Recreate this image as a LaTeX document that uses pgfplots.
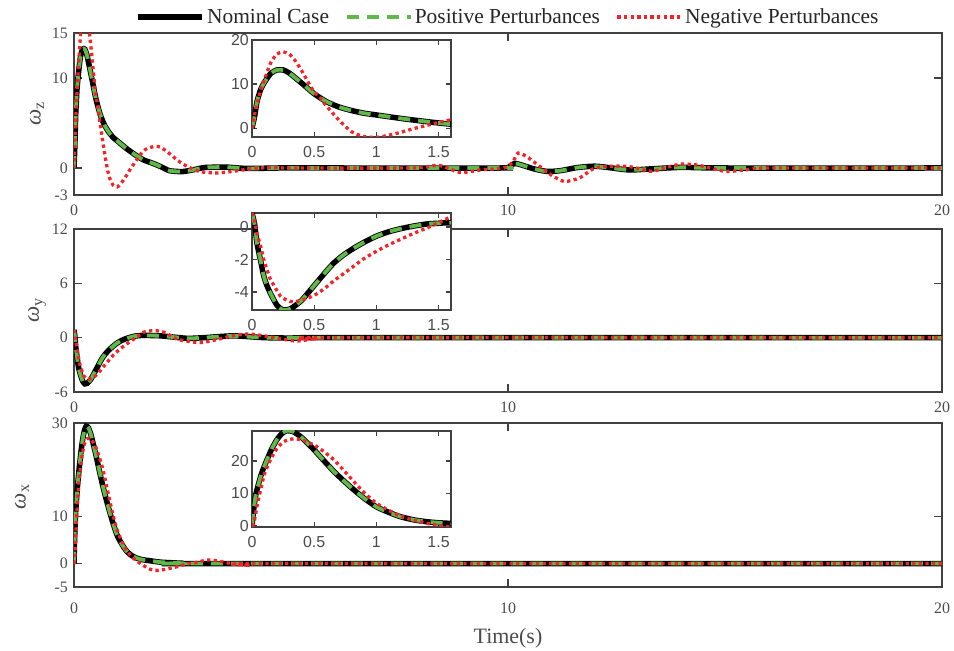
\documentclass[border=0pt]{standalone}
\usepackage{pgfplots}
\pgfplotsset{compat=1.18}
\usepackage{pgfplotstable}
\usepackage{fontspec}
\setmainfont{Liberation Serif}
\newfontfamily\insetfont{Liberation Sans}
\definecolor{axgray}{RGB}{64,64,64}
\definecolor{txtgray}{RGB}{75,75,75}
\definecolor{nomgreen}{RGB}{96,184,72}
\definecolor{negred}{RGB}{245,35,40}

% omega_z
\pgfplotstableread{
t v
0 0
0.02 2.5
0.04 6
0.07 8.8
0.1 10.4
0.15 12.4
0.2 13.2
0.25 13.2
0.3 12.5
0.4 10.2
0.5 7.8
0.6 6.0
0.7 4.8
0.8 4.0
0.9 3.4
1.0 3.0
1.2 2.2
1.4 1.5
1.6 0.9
1.8 0.55
2.0 0.15
2.2 -0.3
2.5 -0.4
2.8 -0.15
3.0 0.05
3.5 0.1
4.0 -0.05
5.0 0.02
6.0 0
9.9 0
10.0 0.05
10.15 0.5
10.3 0.35
10.6 -0.1
10.9 -0.38
11.2 -0.3
11.6 0.05
12.0 0.2
12.4 0.0
12.8 -0.22
13.3 -0.1
14.0 0.07
15.0 0
20 0
}\wzNom
\pgfplotstableread{
t v
0 0
0.02 3
0.04 5.5
0.07 8.5
0.1 11
0.15 14.8
0.2 16.8
0.25 17.3
0.3 16.8
0.35 15.2
0.4 13
0.45 10.5
0.5 8.2
0.55 6.8
0.6 5.0
0.7 1.8
0.8 -0.8
0.9 -1.9
1.0 -2.1
1.1 -1.6
1.2 -0.9
1.3 -0.1
1.4 0.6
1.5 1.3
1.6 1.9
1.7 2.2
1.87 2.4
2.0 2.3
2.2 1.6
2.4 0.8
2.6 0.2
2.9 -0.4
3.3 -0.55
3.7 -0.35
4.1 -0.07
4.5 0.05
5.0 0
7.8 0
8.4 0.3
8.9 -0.5
9.4 -0.2
9.9 0
10.1 0.6
10.23 1.65
10.42 1.3
10.7 0.3
11.0 -0.8
11.3 -1.5
11.65 -1.1
12.0 0
12.4 0.2
12.8 0.15
13.3 -0.37
13.6 0
14.0 0.44
14.4 0.3
15.0 -0.37
15.5 -0.2
16.0 0
20 0
}\wzNeg
% omega_y
\pgfplotstableread{
t v
0 0.85
0.02 0.2
0.04 -1.0
0.07 -2.1
0.094 -3.0
0.12 -3.6
0.147 -4.06
0.2 -4.8
0.25 -5.1
0.3 -5.05
0.335 -4.9
0.4 -4.5
0.5 -3.6
0.6 -2.7
0.66 -2.2
0.74 -1.7
0.82 -1.3
0.9 -0.95
1.0 -0.57
1.1 -0.3
1.19 -0.12
1.3 0.05
1.41 0.18
1.5 0.22
1.6 0.25
2.0 0.2
2.6 -0.07
3.0 0
3.67 0.2
4.4 0
5.2 -0.05
6.0 0
20 0
}\wyNom
\pgfplotstableread{
t v
0 0.85
0.02 0.4
0.04 -0.4
0.07 -1.2
0.094 -2.0
0.12 -2.6
0.147 -3.2
0.2 -3.9
0.23 -4.26
0.28 -4.5
0.33 -4.6
0.4 -4.5
0.5 -4.2
0.58 -3.8
0.66 -3.3
0.74 -2.85
0.82 -2.4
0.9 -1.95
1.0 -1.5
1.1 -1.1
1.19 -0.78
1.3 -0.4
1.41 -0.06
1.5 0.25
1.6 0.6
1.75 0.75
1.9 0.77
2.1 0.55
2.4 -0.2
2.9 -0.55
3.3 -0.2
3.7 0.25
4.06 0.4
4.5 0.1
5.1 -0.37
5.5 -0.15
6.0 0
20 0
}\wyNeg
% omega_x
\pgfplotstableread{
t v
0 0
0.013 4.9
0.03 9.5
0.054 13.1
0.08 16.5
0.12 20.3
0.16 23.8
0.2 26.5
0.24 28.4
0.28 29.3
0.33 29.0
0.39 27.5
0.45 25.3
0.5 23.4
0.58 20.0
0.66 16.7
0.74 13.8
0.82 11.1
0.9 8.6
1.0 5.9
1.1 4.2
1.19 2.9
1.3 1.9
1.41 1.3
1.5 1.0
1.6 0.8
1.75 0.6
2.0 0.3
2.5 0.07
3.0 0
20 0
}\wxNom
\pgfplotstableread{
t v
0 0
0.013 0.5
0.03 4
0.05 8
0.075 12
0.1 16
0.15 20.5
0.2 23.8
0.25 25.8
0.3 26.6
0.35 26.8
0.4 26.4
0.5 24.9
0.58 22.8
0.66 20.3
0.74 17.0
0.82 13.6
0.9 10.3
1.0 7.0
1.1 4.8
1.19 3.1
1.3 1.8
1.41 0.8
1.5 0.2
1.6 -0.4
1.75 -1.2
1.87 -1.45
2.0 -1.4
2.3 -0.85
2.6 -0.1
2.9 0.4
3.06 0.78
3.3 0.6
3.5 0.2
3.8 -0.2
4.06 -0.35
4.6 0
20 0
}\wxNeg

\pgfplotsset{
  mainax/.style={scale only axis, width=868bp, xmin=0, xmax=20, xtick={0,10,20},
    axis line style={axgray, line width=1.5bp},
    every tick/.style={axgray, line width=1.5bp}, major tick length=8bp,
    /pgf/number format/assume math mode=true,
    tick label style={font=\fontsize{16}{16}\selectfont, text=txtgray},
    xticklabel style={inner sep=1bp, yshift=-9bp},
    yticklabel style={inner sep=1bp, xshift=-5bp},
    ylabel style={font=\fontsize{23}{23}\selectfont, text=txtgray}},
  insetax/.style={scale only axis, width=199bp, xmin=0, xmax=1.6, xtick={0,0.5,1,1.5},
    axis background/.style={fill=white},
    axis line style={axgray, line width=1.5bp},
    every tick/.style={axgray, line width=1.3bp}, major tick length=5bp,
    /pgf/number format/assume math mode=true,
    tick label style={font=\insetfont\fontsize{16}{16}\selectfont, text=txtgray},
    xticklabel style={inner sep=1bp, yshift=-8bp},
    yticklabel style={inner sep=1bp, xshift=-2bp}},
  nom/.style={black, line width=5.5bp, smooth, tension=0.4, mark=none},
  pos/.style={nomgreen, line width=3.8bp, dash pattern=on 12bp off 8bp, smooth, tension=0.4, mark=none},
  neg/.style={negred, line width=3.3bp, dash pattern=on 3.3bp off 3.3bp, smooth, tension=0.4, mark=none},
}

\begin{document}
\begin{tikzpicture}
\useasboundingbox (0,0) rectangle (954bp,651bp);
% ---- omega_z
\begin{axis}[mainax, at={(74bp,456bp)}, anchor=south west, height=162bp,
  ymin=-3, ymax=15, ytick={-3,0,10,15},
  ylabel={\itshape ω\textsubscript{\upshape z}},
  ylabel style={at={(axis description cs:-0.0426,0.5)}, anchor=center},
  legend columns=3,
  legend style={at={(0.5,1)}, anchor=center, yshift=16bp, draw=none, fill=none,
    font=\fontsize{21.5}{24}\selectfont, text=black!85,
    /tikz/every even column/.append style={column sep=14bp}},
  legend image code/.code={\draw[#1] (0bp,0bp) -- (64bp,0bp);},
]
\addplot[nom] table[x=t,y=v] {\wzNom};
\addlegendentry{Nominal Case}
\addplot[pos] table[x=t,y=v] {\wzNom};
\addlegendentry{Positive Perturbances}
\addplot[neg] table[x=t,y=v] {\wzNeg};
\addlegendentry{Negative Perturbances}
\end{axis}
\begin{axis}[insetax, at={(252bp,514bp)}, anchor=south west, height=97bp,
  ymin=-2, ymax=20, ytick={0,10,20}]
\addplot[nom] table[x=t,y=v] {\wzNom};
\addplot[pos] table[x=t,y=v] {\wzNom};
\addplot[neg] table[x=t,y=v] {\wzNeg};
\end{axis}
% ---- omega_y
\begin{axis}[mainax, at={(74bp,259bp)}, anchor=south west, height=163bp,
  ymin=-6, ymax=12, ytick={-6,0,6,12},
  ylabel={\itshape ω\textsubscript{\upshape y}},
  ylabel style={at={(axis description cs:-0.0426,0.5)}, anchor=center}]
\addplot[nom] table[x=t,y=v] {\wyNom};
\addplot[pos] table[x=t,y=v] {\wyNom};
\addplot[neg] table[x=t,y=v] {\wyNeg};
\end{axis}
\begin{axis}[insetax, at={(252bp,341bp)}, anchor=south west, height=97bp,
  ymin=-5.1, ymax=0.85, ytick={-4,-2,0}]
\addplot[nom] table[x=t,y=v] {\wyNom};
\addplot[pos] table[x=t,y=v] {\wyNom};
\addplot[neg] table[x=t,y=v] {\wyNeg};
\end{axis}
% ---- omega_x
\begin{axis}[mainax, at={(74bp,64bp)}, anchor=south west, height=164bp,
  ymin=-5, ymax=30, ytick={-5,0,10,30},
  xticklabel style={yshift=-6bp},
  ylabel={\itshape ω\textsubscript{\upshape x}},
  ylabel style={at={(axis description cs:-0.0599,0.55)}, anchor=center},
  xlabel={Time(s)},
  xlabel style={font=\fontsize{22}{22}\selectfont, text=txtgray,
    at={(axis description cs:0.5,0)}, anchor=center, yshift=-51bp}]
\addplot[nom] table[x=t,y=v] {\wxNom};
\addplot[pos] table[x=t,y=v] {\wxNom};
\addplot[neg] table[x=t,y=v] {\wxNeg};
\end{axis}
\begin{axis}[insetax, at={(252bp,124bp)}, anchor=south west, height=96bp,
  ymin=-0.3, ymax=29.2, ytick={0,10,20}]
\addplot[nom] table[x=t,y=v] {\wxNom};
\addplot[pos] table[x=t,y=v] {\wxNom};
\addplot[neg] table[x=t,y=v] {\wxNeg};
\end{axis}
\end{tikzpicture}
\end{document}
